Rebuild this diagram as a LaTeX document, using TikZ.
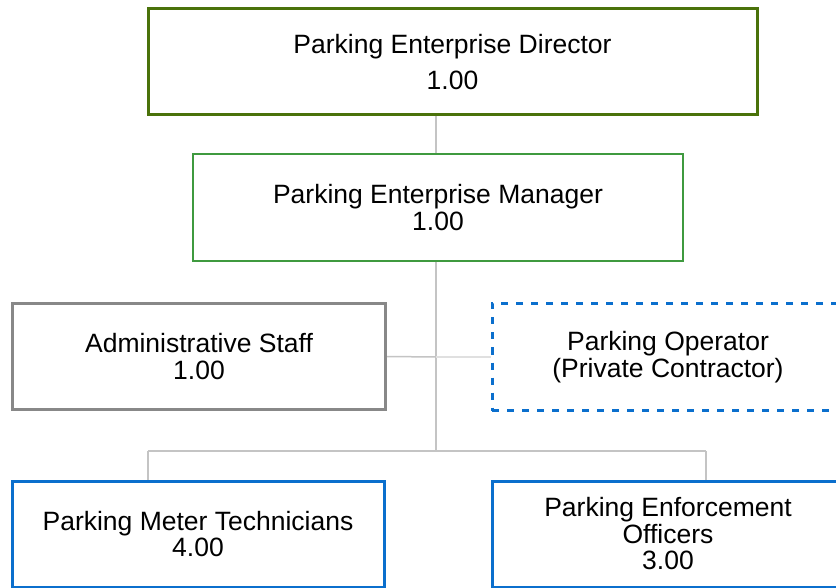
\documentclass[tikz,border=0pt]{standalone}
\usepackage{fontspec}
\setmainfont{Liberation Sans}
\definecolor{dirgreen}{HTML}{4A720A}
\definecolor{mgrgreen}{HTML}{3F9A3F}
\definecolor{admgray}{HTML}{888888}
\definecolor{bblue}{HTML}{0B6FCD}
\definecolor{conn}{HTML}{C4C4C4}
\definecolor{connlight}{HTML}{E0E0E0}
\begin{document}
\begin{tikzpicture}[x=1pt,y=1pt,
  basebox/.style={draw, rectangle, inner sep=0pt, align=center, fill=white,
    font=\fontsize{26.5}{26.5}\selectfont, text=black},
  box/.style={basebox, execute at begin node={\rule{0pt}{29pt}}},
  dirbox/.style={basebox, draw=dirgreen, line width=3pt},
  mgrbox/.style={box, draw=mgrgreen, line width=2pt},
  admbox/.style={box, draw=admgray, line width=3pt},
  opbox/.style={box, draw=bblue, line width=3pt, dash pattern=on 7pt off 8pt},
  staffbox/.style={box, draw=bblue, line width=3pt},
  link/.style={draw=conn, line width=1.5pt},
  linklight/.style={draw=connlight, line width=1.5pt}]
\useasboundingbox (0,0) rectangle (836,-588);
\fill[white] (0,0) rectangle (836,-588);
% junctions
\coordinate (j) at (436,-451);
\coordinate (jl) at (148,-451);
\coordinate (jr) at (706,-451);
\coordinate (jm) at (436,-357);
% nodes
\node[dirbox, minimum width=609pt, minimum height=106pt] (dir) at (452.5,-62)
  {Parking Enterprise Director\\[9.5pt]1.00};
\node[mgrbox, minimum width=490pt, minimum height=107pt] (mgr) at (438,-207.5)
  {Parking Enterprise Manager\\1.00};
\node[admbox, minimum width=373pt, minimum height=106pt] (adm) at (199,-356.5)
  {Administrative Staff\\1.00};
\node[opbox, minimum width=352pt, minimum height=107pt] (op) at (668,-357)
  {Parking Operator\\(Private Contractor)};
\node[staffbox, minimum width=372pt, minimum height=106pt] (met) at (198,-534)
  {Parking Meter Technicians\\4.00};
\node[staffbox, minimum width=352pt, minimum height=106pt] (enf) at (668,-534)
  {Parking Enforcement\\Officers\\3.00};
% connectors
\path[link] (j |- dir.south) -- (j |- mgr.north);
\path[link] (j |- mgr.south) -- (j);
\path[link] (jl) -- (jr);
\path[link] (jl) -- (jl |- met.north);
\path[link] (jr) -- (jr |- enf.north);
\path[link] (adm.east) -- (jm);
\path[linklight] (jm) -- (op.west);
\end{tikzpicture}
\end{document}
